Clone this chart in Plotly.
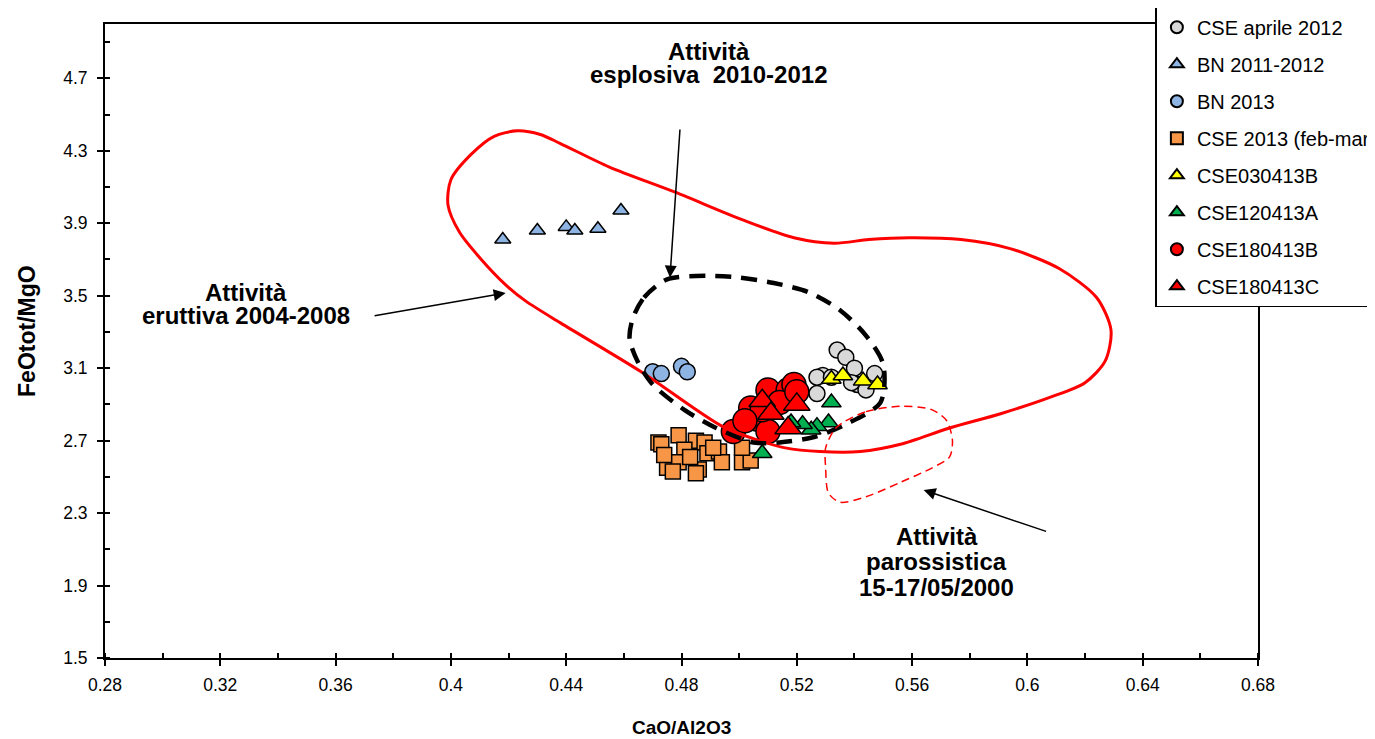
import plotly.graph_objects as go

# ---------------- data ----------------
cse_apr2012_x = [0.534, 0.537, 0.540, 0.547, 0.541, 0.539, 0.529, 0.527, 0.527, 0.544, 0.532]
cse_apr2012_y = [3.20, 3.16, 3.10, 3.07, 3.01, 3.02, 3.06, 2.96, 3.05, 2.98, 3.05]

bn_2011_x = [0.418, 0.430, 0.440, 0.443, 0.451, 0.459]
bn_2011_y = [3.81, 3.86, 3.88, 3.86, 3.87, 3.97]

bn_2013_x = [0.470, 0.473, 0.480, 0.482]
bn_2013_y = [3.08, 3.07, 3.11, 3.08]

cse_2013_x = [0.472, 0.473, 0.479, 0.485, 0.488, 0.481, 0.489, 0.493, 0.494, 0.475,
              0.479, 0.486, 0.485, 0.501, 0.504, 0.501, 0.483, 0.477, 0.491, 0.474]
cse_2013_y = [2.69, 2.68, 2.73, 2.70, 2.69, 2.65, 2.63, 2.64, 2.58, 2.55,
              2.58, 2.54, 2.52, 2.58, 2.59, 2.66, 2.61, 2.53, 2.66, 2.62]

cse030413b_x = [0.532, 0.536, 0.543, 0.548]
cse030413b_y = [3.04, 3.06, 3.03, 3.01]

cse120413a_x = [0.532, 0.531, 0.527, 0.525, 0.522, 0.508, 0.518]
cse120413a_y = [2.91, 2.80, 2.78, 2.76, 2.79, 2.63, 2.80]

cse180413b_x = [0.498, 0.506, 0.510, 0.504, 0.510, 0.517, 0.519, 0.514, 0.508, 0.502, 0.520]
cse180413b_y = [2.75, 2.82, 2.75, 2.88, 2.98, 2.98, 3.01, 2.91, 2.87, 2.81, 2.97]

cse180413c_x = [0.508, 0.520, 0.517, 0.511]
cse180413c_y = [2.92, 2.90, 2.77, 2.85]

# field outlines
eruttiva_x = [0.399, 0.400, 0.407, 0.415, 0.423, 0.431, 0.438, 0.455, 0.478, 0.501, 0.519,
              0.533, 0.545, 0.559, 0.577, 0.594, 0.611, 0.624, 0.629, 0.627, 0.620, 0.608,
              0.591, 0.573, 0.556, 0.542, 0.528, 0.516, 0.507, 0.494, 0.466, 0.438, 0.426,
              0.419, 0.410, 0.403, 0.399]
eruttiva_y = [4.00, 4.14, 4.28, 4.38, 4.41, 4.39, 4.34, 4.21, 4.07, 3.92, 3.82,
              3.79, 3.81, 3.82, 3.81, 3.76, 3.65, 3.49, 3.31, 3.14, 3.02, 2.94,
              2.85, 2.77, 2.68, 2.64, 2.64, 2.66, 2.70, 2.78, 3.08, 3.35, 3.47,
              3.56, 3.71, 3.85, 4.00]

esplosiva_x = [0.463, 0.467, 0.475, 0.489, 0.500, 0.512, 0.524, 0.535, 0.544, 0.550, 0.549,
               0.537, 0.526, 0.514, 0.505, 0.492, 0.481, 0.470, 0.465, 0.462, 0.463]
esplosiva_y = [3.37, 3.49, 3.59, 3.61, 3.60, 3.57, 3.52, 3.42, 3.28, 3.12, 2.91,
               2.79, 2.72, 2.69, 2.69, 2.77, 2.87, 3.01, 3.13, 3.26, 3.37]

parossistica_x = [0.536, 0.544, 0.556, 0.567, 0.572, 0.574, 0.573, 0.567, 0.556, 0.544,
                  0.535, 0.531, 0.530, 0.530, 0.533, 0.536]
parossistica_y = [2.80, 2.86, 2.89, 2.87, 2.81, 2.70, 2.61, 2.55, 2.47, 2.39,
                  2.36, 2.41, 2.55, 2.66, 2.76, 2.80]

x_tickvals = [0.28, 0.32, 0.36, 0.40, 0.44, 0.48, 0.52, 0.56, 0.60, 0.64, 0.68]
x_ticktext = ["0.28", "0.32", "0.36", "0.4", "0.44", "0.48", "0.52", "0.56", "0.6", "0.64", "0.68"]
y_tickvals = [1.5, 1.9, 2.3, 2.7, 3.1, 3.5, 3.9, 4.3, 4.7]
y_ticktext = ["1.5", "1.9", "2.3", "2.7", "3.1", "3.5", "3.9", "4.3", "4.7"]

FONT = "Liberation Sans, Arial, sans-serif"
OUT = dict(color="black", width=1.5)

fig = go.Figure()

def add_series(name, xs, ys, symbol, color, size, group):
    fig.add_trace(go.Scatter(
        x=xs, y=ys, mode="markers", name=name, legendgroup=group,
        marker=dict(symbol=symbol, color=color, size=size, line=OUT),
    ))

add_series("CSE aprile 2012", cse_apr2012_x, cse_apr2012_y, "circle", "#D9D9D9", 16, "g1")
add_series("BN 2011-2012", bn_2011_x, bn_2011_y, "triangle-up", "#8DB4E2", 14, "g2")
add_series("BN 2013", bn_2013_x, bn_2013_y, "circle", "#8DB4E2", 16, "g3")
add_series("CSE 2013 (feb-mar)", cse_2013_x, cse_2013_y, "square", "#F79646", 15, "g4")
add_series("CSE030413B", cse030413b_x, cse030413b_y, "triangle-up", "#FFFF00", 17, "g5")
add_series("CSE120413A", cse120413a_x, cse120413a_y, "triangle-up", "#00B050", 17, "g6")
add_series("CSE180413B", cse180413b_x, cse180413b_y, "circle", "#FF0000", 24, "g7")
add_series("CSE180413C", cse180413c_x, cse180413c_y, "triangle-up", "#FF0000", 23, "g8")

# outlines
fig.add_trace(go.Scatter(x=eruttiva_x, y=eruttiva_y, mode="lines", showlegend=False,
                         line=dict(color="#FF0000", width=3, shape="spline", smoothing=0.8),
                         hoverinfo="skip"))
fig.add_trace(go.Scatter(x=esplosiva_x, y=esplosiva_y, mode="lines", showlegend=False,
                         line=dict(color="black", width=4.5, dash="16px,10px",
                                   shape="spline", smoothing=0.8),
                         hoverinfo="skip"))
fig.add_trace(go.Scatter(x=parossistica_x, y=parossistica_y, mode="lines", showlegend=False,
                         line=dict(color="#FF0000", width=1.5, dash="8px,5px",
                                   shape="spline", smoothing=0.8),
                         hoverinfo="skip"))

annotations = []
def text(s, x, y, size=24):
    annotations.append(dict(text="<b>%s</b>" % s, x=x, y=y, xref="x", yref="y",
                            showarrow=False, font=dict(family=FONT, size=size, color="black"),
                            xanchor="center", yanchor="middle"))

def arrow(xh, yh, xt, yt):
    annotations.append(dict(text="", x=xh, y=yh, ax=xt, ay=yt, xref="x", yref="y",
                            axref="x", ayref="y", showarrow=True, arrowhead=2,
                            arrowsize=1.6, arrowwidth=1.5, arrowcolor="black"))

text("Attività", 0.4894, 4.85)
text("esplosiva  2010-2012", 0.4894, 4.72)
arrow(0.476, 3.60, 0.4795, 4.426)

text("Attività", 0.329, 3.52)
text("eruttiva 2004-2008", 0.329, 3.39)
arrow(0.419, 3.515, 0.373, 3.388)

text("Attività", 0.5685, 2.17)
text("parossistica", 0.5685, 2.03)
text("15-17/05/2000", 0.5685, 1.89)
arrow(0.564, 2.427, 0.607, 2.196)

# axis titles
annotations.append(dict(text="<b>CaO/Al2O3</b>", x=0.5, y=-0.109, xref="paper", yref="paper",
                        showarrow=False, font=dict(family=FONT, size=19, color="black"),
                        xanchor="center", yanchor="middle"))
annotations.append(dict(text="<b>FeOtot/MgO</b>", x=-0.0677, y=0.5158, xref="paper", yref="paper",
                        showarrow=False, textangle=-90,
                        font=dict(family=FONT, size=23, color="black"),
                        xanchor="center", yanchor="middle"))

fig.update_layout(
    width=1367, height=731,
    margin=dict(l=97, r=117, t=16, b=81, autoexpand=False),
    paper_bgcolor="white", plot_bgcolor="white",
    font=dict(family=FONT, size=17.5, color="black"),
    showlegend=True,
    legend=dict(x=0.911, y=1.028, xanchor="left", yanchor="top",
                bgcolor="white", bordercolor="black", borderwidth=1.5,
                font=dict(family=FONT, size=20, color="black"),
                itemsizing="constant", tracegroupgap=8, itemwidth=30),
    annotations=annotations,
    xaxis=dict(range=[0.28, 0.68], tickvals=x_tickvals, ticktext=x_ticktext,
               showgrid=False, zeroline=False, showline=True, linecolor="black",
               linewidth=2, mirror=True, ticks="outside", ticklen=6, tickwidth=1.5,
               tickcolor="black", ticklabelstandoff=4,
               minor=dict(ticks="inside", dtick=0.02, tick0=0.28, ticklen=5,
                          tickwidth=1.5, tickcolor="black", showgrid=False)),
    yaxis=dict(range=[1.5, 5.0], tickvals=y_tickvals, ticktext=y_ticktext,
               showgrid=False, zeroline=False, showline=True, linecolor="black",
               linewidth=2, mirror=True, ticks="outside", ticklen=6, tickwidth=1.5,
               tickcolor="black", ticklabelstandoff=6,
               minor=dict(ticks="inside", dtick=0.2, tick0=1.5, ticklen=5,
                          tickwidth=1.5, tickcolor="black", showgrid=False)),
    xaxis2=dict(overlaying="x", anchor="y", side="bottom", range=[0.28, 0.68],
                tickvals=x_tickvals, showticklabels=False, ticks="inside", ticklen=6,
                tickwidth=1.5, tickcolor="black", showgrid=False, zeroline=False,
                showline=False),
    yaxis2=dict(overlaying="y", anchor="x", side="left", range=[1.5, 5.0],
                tickvals=y_tickvals, showticklabels=False, ticks="inside", ticklen=6,
                tickwidth=1.5, tickcolor="black", showgrid=False, zeroline=False,
                showline=False),
)

fig.write_html("out.html")
